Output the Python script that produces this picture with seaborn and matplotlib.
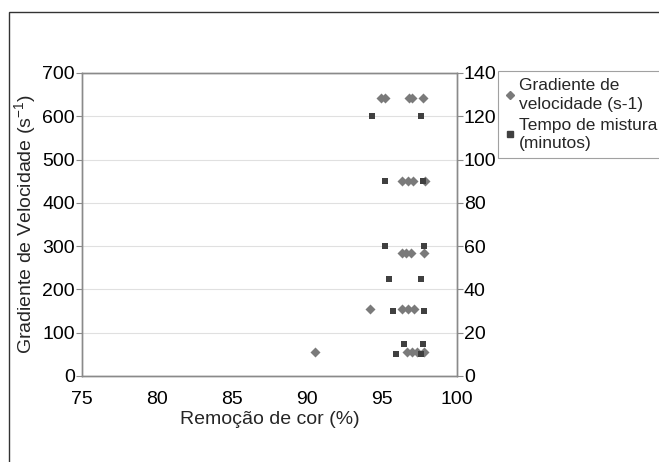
import matplotlib
matplotlib.use("Agg")
import matplotlib.pyplot as plt
import seaborn as sns
import pandas as pd
from matplotlib.patches import Rectangle
from matplotlib.lines import Line2D

# Gradiente de velocidade (s-1) -- left axis
grad_x = [90.5, 96.65, 97.0, 97.3, 97.8,
          94.2, 96.3, 96.7, 97.1,
          96.3, 96.6, 96.9, 97.8,
          96.35, 96.75, 97.05, 97.85,
          94.9, 95.2, 96.8, 97.0, 97.75]
grad_y = [55, 55, 55, 55, 55,
          155, 155, 155, 155,
          285, 285, 285, 285,
          450, 450, 450, 450,
          643, 643, 643, 643, 643]

# Tempo de mistura (minutos) -- right axis
tempo_x = [95.95, 97.6, 96.45, 97.7, 95.7, 97.8, 95.45, 97.6,
           95.2, 97.8, 95.2, 97.75, 94.3, 97.6]
tempo_y = [10, 10, 15, 15, 30, 30, 45, 45, 60, 60, 90, 90, 120, 120]

x_ticks = [75, 80, 85, 90, 95, 100]
left_ticks = [0, 100, 200, 300, 400, 500, 600, 700]
right_ticks = [0, 20, 40, 60, 80, 100, 120, 140]

sns.set_theme(style="white")
plt.rcParams['font.family'] = ['Liberation Sans', 'DejaVu Sans']
plt.rcParams['mathtext.fontset'] = 'custom'
plt.rcParams['mathtext.rm'] = 'Liberation Sans'
plt.rcParams['mathtext.it'] = 'Liberation Sans'

fig = plt.figure(figsize=(6.59, 4.62), dpi=100)
ax = fig.add_axes([82/659, 1-376/462, (457-82)/659, (376-73)/462])
ax2 = ax.twinx()

gcol = "#7a7a7a"
tcol = "#404040"
df_g = pd.DataFrame({"x": grad_x, "y": grad_y})
df_t = pd.DataFrame({"x": tempo_x, "y": tempo_y})
sns.scatterplot(data=df_g, x="x", y="y", marker="D", s=26, color=gcol,
                edgecolor=gcol, linewidth=0, ax=ax, zorder=3)
sns.scatterplot(data=df_t, x="x", y="y", marker="s", s=22, color=tcol,
                edgecolor=tcol, linewidth=0, ax=ax2, zorder=3)

ax.set_xlim(75, 100)
ax.set_ylim(0, 700)
ax2.set_ylim(0, 140)
ax.set_xticks(x_ticks)
ax.set_yticks(left_ticks)
ax2.set_yticks(right_ticks)
ax.grid(axis="y", color="#e0e0e0", linewidth=0.8)
ax.set_axisbelow(True)

for a in (ax, ax2):
    for sp in a.spines.values():
        sp.set_color("#8a8a8a")
        sp.set_linewidth(1.0)
    a.tick_params(axis="y", labelsize=14, colors="#8a8a8a",
                  labelcolor="black", length=4, width=0.8, direction="out", pad=1)
ax.tick_params(axis="x", labelsize=14, colors="#8a8a8a", labelcolor="black",
               length=4, width=0.8, direction="out", pad=7)

ax.set_xlabel("Remoção de cor (%)", fontsize=14, labelpad=2)
ax.set_ylabel(r"Gradiente de Velocidade (s$^{-1}$)", fontsize=14, labelpad=3)
ax2.set_ylabel("")

handles = [
    Line2D([], [], marker="D", linestyle="none", color=gcol, markersize=4),
    Line2D([], [], marker="s", linestyle="none", color=tcol, markersize=4),
]
labels = ["Gradiente de\nvelocidade (s-1)", "Tempo de mistura\n(minutos)"]
leg = fig.legend(handles, labels, loc="upper left",
                 bbox_to_anchor=(498/659, 1-71/462), fontsize=12.5,
                 frameon=True, fancybox=False, handlelength=0.6,
                 handletextpad=0.2, borderpad=0.4, labelspacing=0.35,
                 borderaxespad=0)
for t in leg.get_texts():
    t.set_linespacing(1.3)
leg.get_frame().set_edgecolor("#8a8a8a")
leg.get_frame().set_linewidth(0.8)

# outer frame (cropped at right and bottom)
fig.add_artist(Rectangle((9/659, -0.1), 1.2, 1-12/462+0.1,
                         transform=fig.transFigure, fill=False,
                         edgecolor="#333333", linewidth=1.0))

fig.savefig("out.png", dpi=100)
